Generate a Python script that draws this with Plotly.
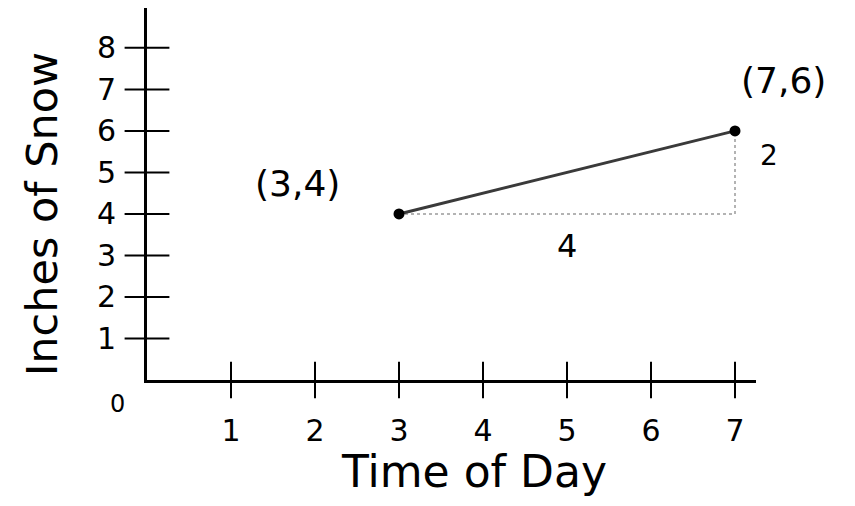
import plotly.graph_objects as go

# the two plotted points
point_x = [3, 7]
point_y = [4, 6]
point_labels = ["(3,4)", "(7,6)"]

# axis tick values
x_ticks = [1, 2, 3, 4, 5, 6, 7]
y_ticks = [1, 2, 3, 4, 5, 6, 7, 8]

# run / rise of the slope triangle
run = point_x[1] - point_x[0]
rise = point_y[1] - point_y[0]

FONT = "DejaVu Sans"
INK = "black"

fig = go.Figure()

# hand-drawn style tick marks crossing the axes
fig.add_trace(go.Scatter(
    x=x_ticks, y=[0] * len(x_ticks), mode="markers",
    marker=dict(symbol="line-ns", size=26, line=dict(width=2, color=INK)),
    hoverinfo="skip", showlegend=False, cliponaxis=False))
fig.add_trace(go.Scatter(
    x=[0] * len(y_ticks), y=y_ticks, mode="markers",
    marker=dict(symbol="line-ew", size=32, line=dict(width=2, color=INK)),
    hoverinfo="skip", showlegend=False, cliponaxis=False))

# dotted run and rise
fig.add_trace(go.Scatter(
    x=[point_x[0], point_x[1], point_x[1]],
    y=[point_y[0], point_y[0], point_y[1]],
    mode="lines", line=dict(color="#9a9a9a", width=1.5, dash="dot"),
    hoverinfo="skip", showlegend=False))

# segment between the points
fig.add_trace(go.Scatter(
    x=point_x, y=point_y, mode="lines+markers",
    line=dict(color="#3a3a3a", width=3),
    marker=dict(color=INK, size=11),
    showlegend=False))

# point labels
fig.add_annotation(x=point_x[0], y=point_y[0], text=point_labels[0],
                   showarrow=False, xshift=-102, yshift=30,
                   font=dict(family=FONT, size=36, color=INK))
fig.add_annotation(x=point_x[1], y=point_y[1], text=point_labels[1],
                   showarrow=False, xshift=48, yshift=50,
                   font=dict(family=FONT, size=36, color=INK))

# run / rise labels
fig.add_annotation(x=(point_x[0] + point_x[1]) / 2, y=point_y[0], text=str(run),
                   showarrow=False, yshift=-32,
                   font=dict(family=FONT, size=32, color=INK))
fig.add_annotation(x=point_x[1], y=(point_y[0] + point_y[1]) / 2 + 0.4, text=str(rise),
                   showarrow=False, xshift=34,
                   font=dict(family=FONT, size=28, color=INK))

# origin label
fig.add_annotation(x=0, y=0, text="0", showarrow=False, xshift=-30, yshift=-24,
                   font=dict(family=FONT, size=24, color=INK))

# axis titles (placed off-centre like the sketch)
fig.add_annotation(xref="paper", yref="paper", x=0.537, y=-0.245,
                   xanchor="center", yanchor="middle", text="Time of Day",
                   showarrow=False, font=dict(family=FONT, size=44, color=INK))
fig.add_annotation(xref="paper", yref="paper", x=-0.172, y=0.446,
                   xanchor="center", yanchor="middle", text="Inches of Snow",
                   textangle=-90, showarrow=False,
                   font=dict(family=FONT, size=43, color=INK))

fig.update_layout(
    width=847, height=498,
    margin=dict(l=139, r=99, t=0, b=126),
    paper_bgcolor="white", plot_bgcolor="white",
    font=dict(family=FONT, color=INK),
    xaxis=dict(
        range=[0, 7.25], tickvals=x_ticks, showgrid=False, zeroline=False,
        showline=True, linewidth=3, linecolor=INK, automargin=False,
        ticks="outside", ticklen=22, tickcolor="rgba(0,0,0,0)",
        tickfont=dict(size=30)),
    yaxis=dict(
        range=[0, 8.96], tickvals=y_ticks, showgrid=False, zeroline=False,
        showline=True, linewidth=3, linecolor=INK, automargin=False,
        ticks="outside", ticklen=22, tickcolor="rgba(0,0,0,0)",
        tickfont=dict(size=30)),
)

fig.write_html("out.html")
